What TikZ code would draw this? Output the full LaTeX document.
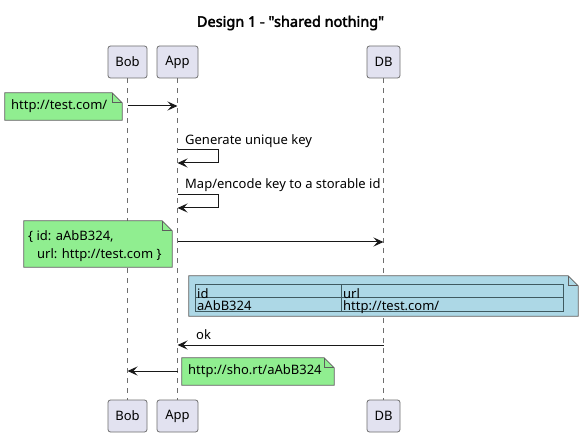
\documentclass[tikz,border=0pt]{standalone}
\usepackage{fontspec}
\setmainfont{Noto Sans}
\newfontfamily\titlefont{Noto Sans}[AutoFakeBold=2.6]
\usetikzlibrary{arrows.meta}
\definecolor{partfill}{HTML}{E2E2F0}
\definecolor{partline}{HTML}{6E6E6E}
\definecolor{notegreen}{HTML}{90EE90}
\definecolor{noteblue}{HTML}{ADD8E6}
\definecolor{noteline}{HTML}{5E5E5E}
\definecolor{tabline}{HTML}{3F5A60}
\definecolor{ink}{HTML}{181818}
\newcommand\foldnote[2]{%
  \fill[#2] (#1.north west) -- ([xshift=-10pt]#1.north east) -- ([yshift=-10pt]#1.north east) -- (#1.south east) -- (#1.south west) -- cycle;
  \draw[noteline, line width=0.7pt] (#1.north west) -- ([xshift=-10pt]#1.north east) -- ([yshift=-10pt]#1.north east) -- (#1.south east) -- (#1.south west) -- cycle;
  \draw[noteline, line width=0.7pt] ([xshift=-10pt]#1.north east) |- ([yshift=-10pt]#1.north east);
}
\begin{document}
\begin{tikzpicture}[x=1pt, y=-1pt,
  txt/.style={font=\fontsize{13}{16}\selectfont, inner sep=0pt},
  part/.style={draw=partline, fill=partfill, rounded corners=2.5pt, line width=0.8pt,
    minimum height=32pt, inner sep=0pt, font=\fontsize{13}{16}\selectfont},
  lifeline/.style={draw=partline, line width=0.7pt, dash pattern=on 5pt off 5pt},
  msg/.style={draw=ink, line width=1pt, -{Stealth[length=10pt, width=9pt, inset=4pt]}},
  tab/.style={draw=tabline, line width=0.8pt}
]
\useasboundingbox (0,0) rectangle (583,438);
\fill[white] (0,0) rectangle (583,438);

% title
\node[inner sep=0pt, font=\titlefont\fontsize{14.5}{17}\selectfont\bfseries] (title) at (290.5,23) {Design 1 - \char34 shared nothing\char34};

% participants
\node[part, minimum width=39pt] (bobT) at (127.5,62) {Bob};
\node[part, minimum width=41pt] (appT) at (177.5,62) {App};
\node[part, minimum width=33pt] (dbT)  at (383.5,62) {DB};
\node[part, minimum width=39pt] (bobB) at (127.5,416) {Bob};
\node[part, minimum width=41pt] (appB) at (177.5,416) {App};
\node[part, minimum width=33pt] (dbB)  at (383.5,416) {DB};

\draw[lifeline] (bobT.south) -- (bobB.north);
\draw[lifeline] (appT.south) -- (appB.north);
\draw[lifeline] (dbT.south) -- (dbB.north);

% message 1
\node[minimum width=117pt, minimum height=27pt, inner sep=0pt] (n1) at (63.5,106.5) {};
\foldnote{n1}{notegreen}
\node[txt, anchor=west] (n1t) at (11,106.5) {http://test.com/};
\coordinate (m1s) at (127.5,106);
\coordinate (m1e) at (177.5,106);
\draw[msg] (m1s) -- (m1e);

% self message 1
\node[txt, anchor=base west] (l1) at (185,145) {Generate unique key};
\coordinate (s1a) at (177.5,150);
\coordinate (s1b) at (177.5,163);
\draw[msg] (s1a) -- ++(41,0) |- (s1b);

% self message 2
\node[txt, anchor=base west] (l2) at (185,189) {Map/encode key to a storable id};
\coordinate (s2a) at (177.5,195);
\coordinate (s2b) at (177.5,208);
\draw[msg] (s2a) -- ++(41,0) |- (s2b);

% note 2 and message to DB
\node[minimum width=148pt, minimum height=46pt, inner sep=0pt] (n2) at (98,244) {};
\foldnote{n2}{notegreen}
\node[txt, anchor=base west] (n2a) at (28,240.5) {\{ id: aAbB324,};
\node[txt, anchor=base west] (n2b) at (37,258.5) {url: http://test.com \}};
\coordinate (m3s) at (177.5,242);
\coordinate (m3e) at (383.5,242);
\draw[msg] (m3s) -- (m3e);

% blue note with table
\node[minimum width=389pt, minimum height=40pt, inner sep=0pt] (n3) at (383.5,296) {};
\foldnote{n3}{noteblue}
\coordinate (tnw) at (195,284);
\coordinate (tse) at (563,311);
\coordinate (tc1) at (341,284);
\coordinate (tc2) at (341,311);
\coordinate (tr1) at (195,297);
\coordinate (tr2) at (563,297);
\draw[tab] (tnw) rectangle (tse);
\draw[tab] (tc1) -- (tc2);
\draw[tab] (tr1) -- (tr2);
\node[txt, anchor=base west] (c11) at (197,298.5) {id};
\node[txt, anchor=base west] (c12) at (343,298.5) {url};
\node[txt, anchor=base west] (c21) at (197,310.5) {aAbB324};
\node[txt, anchor=base west] (c22) at (343,310.5) {http://test.com/};

% ok
\node[txt, anchor=base west] (lok) at (196,339) {ok};
\coordinate (m4s) at (383.5,345);
\coordinate (m4e) at (177.5,345);
\draw[msg] (m4s) -- (m4e);

% final
\node[minimum width=152pt, minimum height=27pt, inner sep=0pt] (n4) at (258,371.5) {};
\foldnote{n4}{notegreen}
\node[txt, anchor=west] (n4t) at (188,371.5) {http://sho.rt/aAbB324};
\coordinate (m5s) at (177.5,371);
\coordinate (m5e) at (127.5,371);
\draw[msg] (m5s) -- (m5e);
\end{tikzpicture}
\end{document}
